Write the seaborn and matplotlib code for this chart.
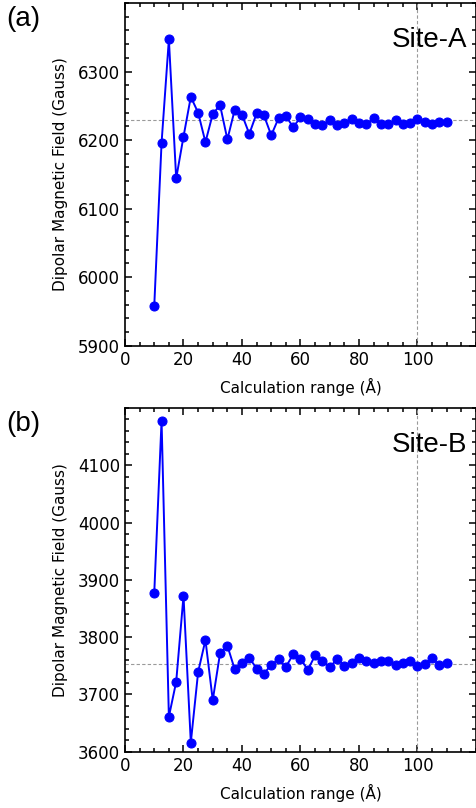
import matplotlib
matplotlib.use("Agg")
import matplotlib.pyplot as plt
from matplotlib.ticker import MultipleLocator, FixedLocator
import numpy as np
import pandas as pd
import seaborn as sns

# ---- data ----
calc_range = [10, 12.5, 15, 17.5, 20, 22.5, 25, 27.5, 30, 32.5, 35, 37.5, 40, 42.5,
              45, 47.5, 50, 52.5, 55, 57.5, 60, 62.5, 65, 67.5, 70, 72.5, 75, 77.5,
              80, 82.5, 85, 87.5, 90, 92.5, 95, 97.5, 100, 102.5, 105, 107.5, 110]

site_a = [5958, 6196, 6347, 6144, 6205, 6263, 6240, 6197, 6238, 6251, 6201, 6244,
          6237, 6209, 6239, 6236, 6207, 6232, 6235, 6219, 6233, 6231, 6224, 6222,
          6229, 6222, 6225, 6231, 6225, 6223, 6232, 6223, 6223, 6229, 6224, 6225,
          6231, 6226, 6224, 6227, 6227]

site_b = [3877, 4178, 3661, 3722, 3872, 3616, 3739, 3795, 3690, 3772, 3785, 3744,
          3754, 3764, 3745, 3736, 3752, 3761, 3748, 3770, 3762, 3743, 3768, 3759,
          3747, 3762, 3750, 3754, 3764, 3758, 3755, 3759, 3759, 3752, 3755, 3758,
          3750, 3753, 3763, 3751, 3755]

converged = {"Site-A": 6229, "Site-B": 3753}
ref_range = 100
panel_labels = ["(a)", "(b)"]
site_names = ["Site-A", "Site-B"]
ylims = [(5900, 6400), (3600, 4200)]
yticks = [[5900, 6000, 6100, 6200, 6300], [3600, 3700, 3800, 3900, 4000, 4100]]
xticks = [0, 20, 40, 60, 80, 100]
xlim = (0, 120)
xlabel = "Calculation range (Å)"
ylabel = "Dipolar Magnetic Field (Gauss)"

sns.set_style("ticks")
plt.rcParams["font.family"] = ["DejaVu Sans"]
plt.rcParams["text.color"] = "black"
plt.rcParams["axes.labelcolor"] = "black"
plt.rcParams["xtick.color"] = "black"
plt.rcParams["ytick.color"] = "black"

fig = plt.figure(figsize=(4.77, 8.08), dpi=100)
W, H = 477.0, 808.0
rects = [
    [125 / W, (H - 345.7) / H, 351 / W, 342.7 / H],
    [125 / W, (H - 751.7) / H, 351 / W, 343.7 / H],
]

for i, (vals, name) in enumerate(zip([site_a, site_b], site_names)):
    ax = fig.add_axes(rects[i])
    df = pd.DataFrame({"range": calc_range, "field": vals})
    ax.axhline(converged[name], color="#9a9a9a", lw=0.8, ls=(0, (3, 2)), zorder=1)
    ax.axvline(ref_range, color="#9a9a9a", lw=0.8, ls=(0, (3, 2)), zorder=1)
    sns.lineplot(data=df, x="range", y="field", ax=ax, color="#0000ff",
                 marker="o", markersize=6.5, markeredgecolor="#0000ff",
                 linewidth=1.4, zorder=3)
    ax.set_xlim(*xlim)
    ax.set_ylim(*ylims[i])
    ax.xaxis.set_major_locator(FixedLocator(xticks))
    ax.xaxis.set_minor_locator(MultipleLocator(5))
    ax.yaxis.set_major_locator(FixedLocator(yticks[i]))
    ax.yaxis.set_minor_locator(MultipleLocator(20))
    ax.tick_params(which="both", direction="in", top=True, right=True,
                   width=1.1, labelsize=12, color="black", labelcolor="black")
    ax.tick_params(which="major", length=5)
    ax.tick_params(which="minor", length=3)
    for sp in ax.spines.values():
        sp.set_linewidth(1.2)
        sp.set_color("black")
    ax.set_xlabel(xlabel, fontsize=11, labelpad=7, color="black")
    ax.set_ylabel(ylabel, fontsize=11, labelpad=7, color="black")
    ax.text(0.975, 0.93, name, transform=ax.transAxes, ha="right", va="top",
            fontsize=20, color="black", family=["Liberation Sans", "DejaVu Sans"])
    top_px = 6 if i == 0 else 411
    fig.text(6 / W, 1 - top_px / H, panel_labels[i], ha="left", va="top",
             fontsize=20, color="black", family=["Liberation Sans", "DejaVu Sans"])

fig.savefig("out.png", dpi=100)
